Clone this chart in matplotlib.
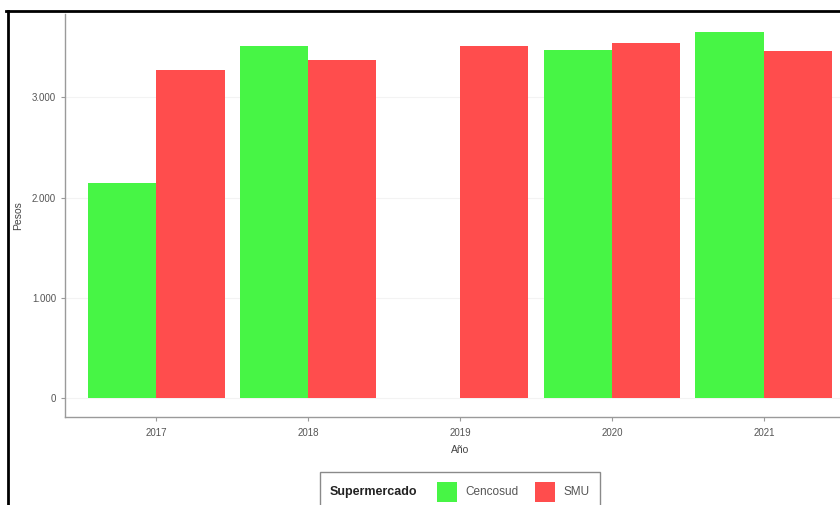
import numpy as np
import matplotlib
matplotlib.use('Agg')
import matplotlib.pyplot as plt
from matplotlib.patches import Rectangle
from matplotlib.lines import Line2D
from matplotlib.ticker import FuncFormatter

plt.rcParams['font.family'] = ['Liberation Sans', 'DejaVu Sans']

years = ['2017', '2018', '2019', '2020', '2021']
cencosud = [2150, 3510, np.nan, 3470, 3650]
smu = [3270, 3370, 3510, 3540, 3460]
series_names = ['Cencosud', 'SMU']
colors = ['#47F545', '#FF4D4D']

W, H = 840, 505
fig = plt.figure(figsize=(W / 100, H / 100), dpi=100)

# panel extends past the right edge of the crop, like the screenshot
ax_left, ax_right, ax_top, ax_bottom = 65, 855, 14, 416.5
ax = fig.add_axes([ax_left / W, 1 - ax_bottom / H,
                   (ax_right - ax_left) / W, (ax_bottom - ax_top) / H])

x = np.arange(len(years))
bw = 0.45
ax.bar(x - bw / 2, cencosud, width=bw, color=colors[0], linewidth=0)
ax.bar(x + bw / 2, smu, width=bw, color=colors[1], linewidth=0)

ax.set_xlim(-0.6, len(years) - 1 + 0.6)
ax.set_ylim(-183, 3833)
ax.set_xticks(x)
ax.set_xticklabels(years)
ax.set_yticks([0, 1000, 2000, 3000])
ax.yaxis.set_major_formatter(FuncFormatter(lambda v, p: f'{int(v):,}'.replace(',', '.')))

ax.grid(axis='y', color='#f3f3f3', linewidth=0.8)
ax.set_axisbelow(True)
for s in ['top', 'right']:
    ax.spines[s].set_visible(False)
for s in ['left', 'bottom']:
    ax.spines[s].set_color('#9a9a9a')
    ax.spines[s].set_linewidth(1.0)
ax.tick_params(colors='#9a9a9a', labelcolor='#555555', labelsize=7, length=3, width=0.8)
ax.tick_params(axis='x', pad=5.5)

ax.set_xlabel('Año', fontsize=7.5, color='#444444', labelpad=5)
ax.set_ylabel('Pesos', fontsize=7.5, color='#444444', labelpad=6)

# black frame of the screenshot
fig.add_artist(Line2D([6 / W, 1], [1 - 11 / H, 1 - 11 / H], transform=fig.transFigure,
                      color='black', linewidth=2))
fig.add_artist(Line2D([8 / W, 8 / W], [0, 1 - 11 / H], transform=fig.transFigure,
                      color='black', linewidth=2))

# legend drawn by hand: title and keys on one row
def px(xp, yp):
    return xp / W, 1 - yp / H

lx0, ly0, lx1 = 320, 472, 600
fig.add_artist(Rectangle(px(lx0, 510), (lx1 - lx0) / W, (510 - ly0) / H,
                         transform=fig.transFigure, facecolor='white',
                         edgecolor='#8a8a8a', linewidth=1))
fig.text(*px(330, 492), 'Supermercado', fontsize=9, fontweight='bold',
         color='#222222', va='center', ha='left')
key_x = [437, 535]
for kx, name, c in zip(key_x, series_names, colors):
    fig.add_artist(Rectangle(px(kx, 502), 20 / W, 20 / H, transform=fig.transFigure,
                             facecolor=c, edgecolor='none'))
    fig.text(*px(kx + 28, 492), name, fontsize=8.5, color='#555555',
             va='center', ha='left')

fig.savefig('out.png', dpi=100)
